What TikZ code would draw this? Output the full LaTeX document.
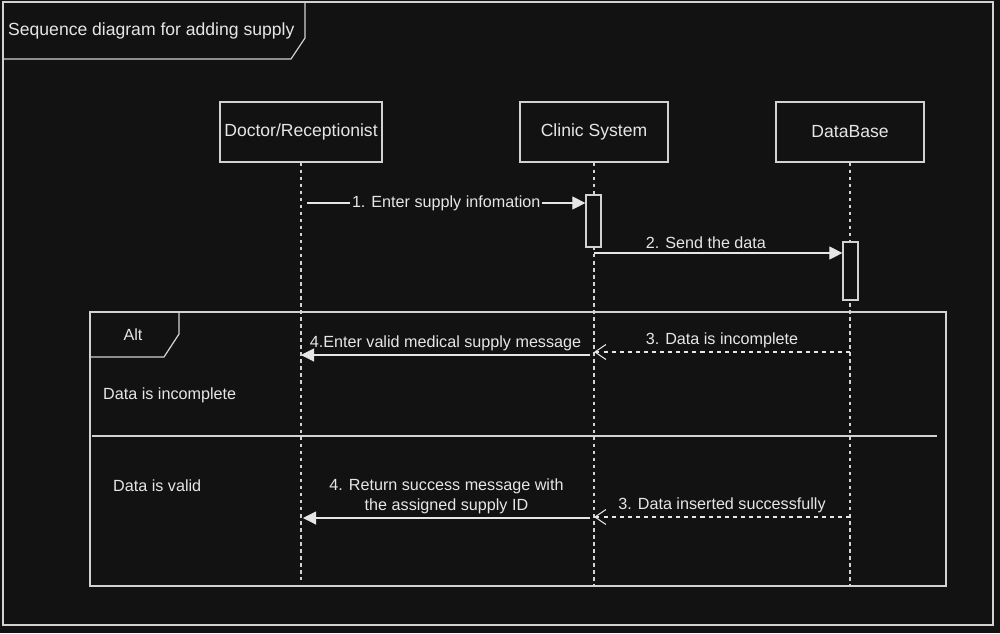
\documentclass[tikz,border=0pt]{standalone}
\usepackage{fontspec}
\setmainfont{Liberation Sans}
\usetikzlibrary{arrows.meta}
\definecolor{bg}{HTML}{121212}
\definecolor{fg}{HTML}{E6E6E6}
\definecolor{ln}{HTML}{D2D2D2}

\begin{document}
\begin{tikzpicture}[x=0.02cm, y=-0.02cm,
  every node/.style={font=\fontsize{10}{11.5}\selectfont, text=fg},
  small/.style={font=\fontsize{9.2}{11.3}\selectfont},
  lbl/.style={small, above, yshift=-1.2pt},
  frame/.style={draw=ln, line width=0.7pt, inner sep=0pt},
  actor/.style={draw=ln, line width=0.7pt, minimum height=1.2cm, inner sep=0pt},
  actbox/.style={draw=ln, line width=0.7pt, fill=bg, minimum width=0.3cm, inner sep=0pt},
  lifeline/.style={draw=ln, line width=0.6pt, dash pattern=on 2pt off 2pt},
  msg/.style={draw=fg, line width=0.6pt, -{Triangle[length=0.26cm,width=0.26cm]}},
  reply/.style={draw=fg, line width=0.6pt, dash pattern=on 2.3pt off 2.3pt,
    -{Straight Barb[length=0.22cm,width=0.3cm]}},
  ]
  \useasboundingbox[fill=bg] (0,0) rectangle (1000,633);

  \node [frame, minimum width=19.8cm, minimum height=12.46cm] (f) at (498,313.5) {};
  \draw [ln, line width=0.7pt] (3,59) -- (291,59) -- (305,38) -- (305,2);
  \node [anchor=west] (t) at (2,31) {Sequence diagram for adding supply};

  \node [actor, minimum width=3.24cm] (p1) at (301,132) {\raisebox{-2pt}{Doctor/Receptionist}};
  \node [actor, minimum width=2.96cm] (p2) at (594,132) {\raisebox{-2pt}{Clinic System}};
  \node [actor, minimum width=2.96cm] (p3) at (850,132) {\raisebox{-1pt}{DataBase}};

  \coordinate (e1) at (301,580);
  \coordinate (e2) at (594,586);
  \coordinate (e3) at (850,586);
  \draw [lifeline] (p1) -- (e1);
  \draw [lifeline] (p2) -- (e2);
  \draw [lifeline] (p3) -- (e3);

  \node [actbox, minimum height=1.04cm] (a1) at (593.5,221) {};
  \node [actbox, minimum height=1.16cm] (a2) at (850.5,271) {};

  \node [frame, minimum width=17.12cm, minimum height=5.48cm] (alt) at (518,449) {};
  \draw [ln, line width=0.7pt] (90,357) -- (164,357) -- (179,334) -- (179,312);
  \node [small] (altt) at (133,335) {Alt};
  \draw [ln, line width=0.6pt] (92,436) -- (937,436);
  \node [small, anchor=west] (g1) at (97,395) {Data is incomplete};
  \node [small, anchor=west] (g2) at (107,486) {Data is valid};

  \coordinate (s1) at (307,203);
  \coordinate (s2) at (594,253);
  \coordinate (r1) at (850,352);
  \coordinate (r2) at (594,352);
  \coordinate (s4) at (590,355);
  \coordinate (t4) at (301,355);
  \coordinate (r3) at (850,517);
  \coordinate (r4) at (594,517);
  \coordinate (s5) at (590,518);
  \coordinate (t5) at (303,518);

  \draw [msg] (s1) -- node [small, fill=bg, inner sep=1pt] {1. Enter supply infomation} (a1.west |- s1);
  \draw [msg] (s2) -- node [lbl, xshift=-7] {2. Send the data} (a2.west |- s2);
  \draw [reply] (r1) -- node [lbl] {3. Data is incomplete} (r2);
  \draw [msg] (s4) -- node [lbl] {4.Enter valid medical supply message} (t4);
  \draw [reply] (r3) -- node [lbl] {3. Data inserted successfully} (r4);
  \draw [msg] (s5) -- node [lbl, align=center] {4. Return success message with\\the assigned supply ID} (t5);
\end{tikzpicture}
\end{document}
